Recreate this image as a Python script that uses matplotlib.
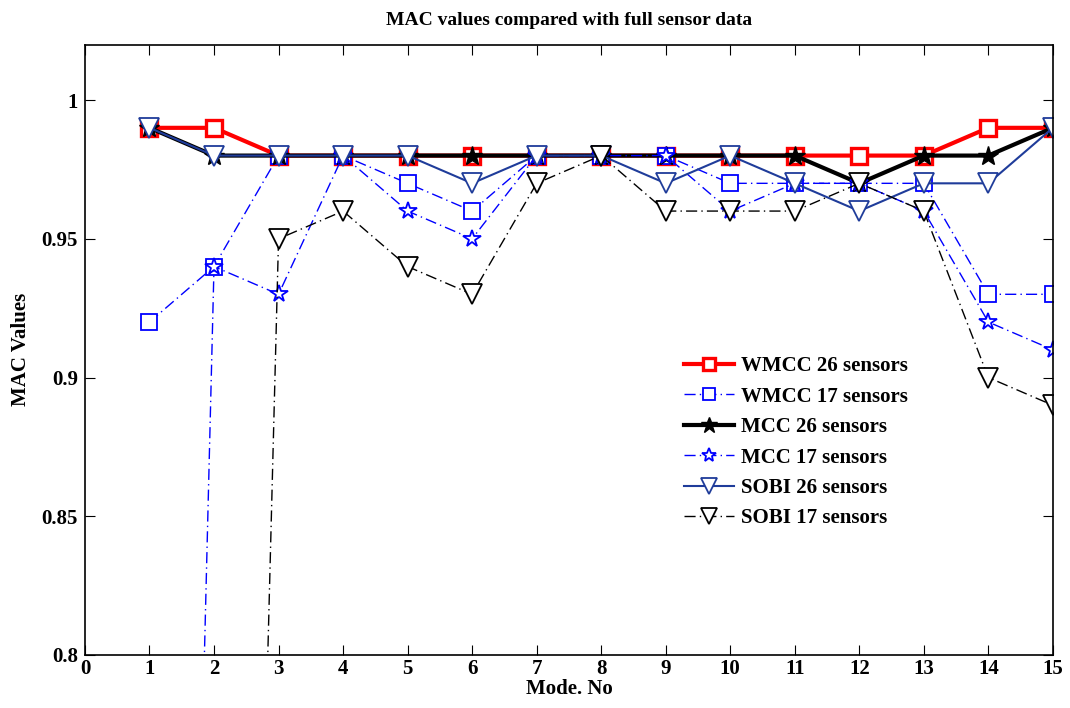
import numpy as np
import matplotlib
matplotlib.use("Agg")
import matplotlib.pyplot as plt

plt.rcParams['font.family'] = ['Liberation Serif', 'DejaVu Serif']
plt.rcParams['font.weight'] = 'bold'

modes = list(range(1, 16))

wmcc_26 = [0.99, 0.99, 0.98, 0.98, 0.98, 0.98, 0.98, 0.98, 0.98, 0.98, 0.98, 0.98, 0.98, 0.99, 0.99]
wmcc_17 = [0.92, 0.94, 0.98, 0.98, 0.97, 0.96, 0.98, 0.98, 0.98, 0.97, 0.97, 0.97, 0.97, 0.93, 0.93]
mcc_26 = [0.99, 0.98, 0.98, 0.98, 0.98, 0.98, 0.98, 0.98, 0.98, 0.98, 0.98, 0.97, 0.98, 0.98, 0.99]
mcc_17 = [0.0, 0.94, 0.93, 0.98, 0.96, 0.95, 0.98, 0.98, 0.98, 0.96, 0.97, 0.97, 0.96, 0.92, 0.91]
sobi_26 = [0.99, 0.98, 0.98, 0.98, 0.98, 0.97, 0.98, 0.98, 0.97, 0.98, 0.97, 0.96, 0.97, 0.97, 0.99]
sobi_17 = [0.0, 0.05, 0.95, 0.96, 0.94, 0.93, 0.97, 0.98, 0.96, 0.96, 0.96, 0.97, 0.96, 0.90, 0.89]

fig = plt.figure(figsize=(10.7, 7.08), dpi=100)
ax = fig.add_axes([0.0794, 0.0749, 0.9046, 0.8621])

dashdot = (0, (8, 3, 1, 3))

ax.plot(modes, wmcc_26, color='red', lw=3.0, marker='s', ms=11, mfc='white',
        mec='red', mew=2.4, label='WMCC 26 sensors')
ax.plot(modes, wmcc_17, color='blue', lw=1.0, ls=dashdot, marker='s', ms=11,
        mfc='white', mec='blue', mew=1.3, label='WMCC 17 sensors')
ax.plot(modes, mcc_26, color='black', lw=3.0, marker='*', ms=15, mfc='black',
        mec='black', label='MCC 26 sensors')
ax.plot(modes, mcc_17, color='blue', lw=1.0, ls=dashdot, marker='*', ms=13,
        mfc='white', mec='blue', mew=1.3, label='MCC 17 sensors')
ax.plot(modes, sobi_26, color='#1f3c9a', lw=1.5, marker='v', ms=14, mfc='white',
        mec='#1f3c9a', mew=1.3, label='SOBI 26 sensors')
ax.plot(modes, sobi_17, color='black', lw=1.0, ls=dashdot, marker='v', ms=14,
        mfc='white', mec='black', mew=1.3, label='SOBI 17 sensors')

ax.set_xlim(0, 15)
ax.set_ylim(0.8, 1.02)
ax.set_xticks(range(0, 16))
ax.set_yticks([0.8, 0.85, 0.9, 0.95, 1.0])
ax.set_yticklabels(['0.8', '0.85', '0.9', '0.95', '1'])
ax.tick_params(direction='in', top=True, right=True, length=7, labelsize=15)
ax.tick_params(axis='x', pad=3)
ax.tick_params(axis='y', pad=5)
for lbl in ax.get_xticklabels() + ax.get_yticklabels():
    lbl.set_fontweight('bold')
for sp in ax.spines.values():
    sp.set_linewidth(1.2)

ax.set_xlabel('Mode. No', fontsize=15, fontweight='bold', labelpad=0)
ax.set_ylabel('MAC Values', fontsize=15, fontweight='bold', labelpad=8)
ax.set_title('MAC values compared with full sensor data', fontsize=14, fontweight='bold', pad=14)

leg = ax.legend(loc='upper left', bbox_to_anchor=(0.6, 0.52), frameon=False,
                fontsize=15, handlelength=2.4, labelspacing=0.5, handletextpad=0.3,
                markerscale=0.8)
for t in leg.get_texts():
    t.set_fontweight('bold')

fig.savefig('out.png', dpi=100)
